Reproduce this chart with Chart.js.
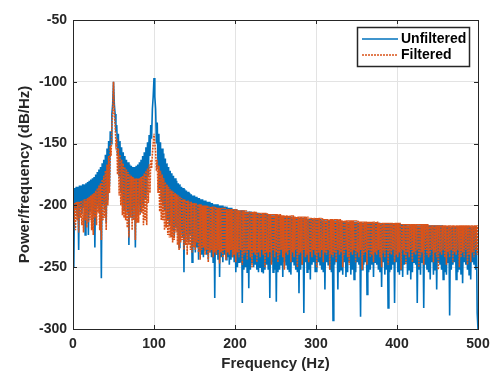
<!DOCTYPE html>
<html>
<head>
<meta charset="utf-8">
<script src="https://cdn.jsdelivr.net/npm/chart.js@4.4.1/dist/chart.umd.min.js"></script>
<style>
  html, body { margin: 0; padding: 0; background: #fff; }
</style>
</head>
<body>
<canvas id="psd" width="490" height="376"></canvas>
<script>
// spectrum, one value per Hz from 0 to 500 Hz
var freqStep = 1;

var unfiltered = [
  -186,-250,-186,-204,-185,-208,-185,-236,-184,-203,
  -184,-207,-183,-202,-183,-224,-182,-206,-181,-224,
  -180,-205,-179,-201,-178,-209,-177,-234,-175,-203,
  -173,-200,-171,-206,-169,-259,-166,-199,-163,-204,
  -159,-214,-154,-196,-148,-184,-140,-150,-126,-118,
  -100,-118,-126,-140,-135,-160,-142,-176,-148,-190,
  -153,-196,-157,-204,-160,-200,-163,-206,-165,-232,
  -167,-204,-168,-210,-169,-202,-169,-234,-168,-208,
  -167,-200,-165,-206,-163,-198,-160,-202,-157,-194,
  -153,-190,-149,-176,-143,-160,-135,-146,-122,-112,
  -97,-112,-122,-150,-133,-170,-142,-186,-149,-196,
  -154,-200,-158,-204,-162,-210,-166,-212,-169,-216,
  -172,-214,-174,-220,-176,-226,-178,-218,-180,-222,
  -182,-234,-183,-222,-185,-226,-186,-254,-187,-224,
  -188,-228,-189,-230,-190,-224,-191,-246,-192,-230,
  -192,-238,-193,-234,-194,-244,-194,-236,-195,-240,
  -195,-242,-196,-236,-196,-240,-197,-244,-197,-238,
  -198,-242,-198,-246,-199,-275,-199,-240,-199,-244,
  -200,-258,-200,-242,-200,-246,-201,-240,-201,-244,
  -201,-242,-202,-248,-202,-244,-202,-242,-203,-246,
  -203,-254,-203,-250,-204,-246,-204,-246,-204,-279,
  -204,-252,-205,-250,-205,-254,-205,-267,-205,-252,
  -205,-246,-206,-250,-206,-248,-206,-252,-206,-254,
  -206,-250,-207,-254,-207,-255,-207,-252,-207,-248,
  -207,-252,-207,-275,-208,-246,-208,-254,-208,-252,
  -208,-278,-208,-254,-208,-252,-208,-248,-209,-258,
  -209,-246,-209,-248,-209,-252,-209,-254,-209,-256,
  -209,-246,-210,-248,-210,-252,-210,-254,-210,-271,
  -210,-252,-210,-248,-210,-287,-210,-246,-210,-254,
  -211,-252,-211,-260,-211,-248,-211,-246,-211,-254,
  -211,-254,-211,-246,-211,-248,-211,-252,-212,-254,
  -212,-268,-212,-246,-212,-248,-212,-252,-212,-254,
  -212,-293,-212,-248,-212,-246,-212,-268,-213,-254,
  -213,-252,-213,-256,-213,-246,-213,-258,-213,-254,
  -213,-246,-213,-256,-213,-252,-213,-260,-213,-254,
  -213,-246,-214,-248,-214,-290,-214,-252,-214,-248,
  -214,-246,-214,-272,-214,-254,-214,-252,-214,-248,
  -214,-258,-214,-246,-214,-248,-214,-252,-214,-254,
  -215,-266,-215,-246,-215,-256,-215,-252,-215,-283,
  -215,-254,-215,-252,-215,-248,-215,-279,-215,-246,
  -215,-254,-215,-256,-215,-252,-215,-258,-215,-248,
  -215,-246,-216,-256,-216,-252,-216,-260,-216,-254,
  -216,-246,-216,-248,-216,-279,-216,-252,-216,-256,
  -216,-246,-216,-283,-216,-248,-216,-252,-216,-254,
  -216,-260,-216,-246,-216,-256,-216,-252,-216,-268,
  -216,-246,-216,-248,-216,-252,-216,-260,-217,-254,
  -217,-256,-217,-246,-217,-289,-217,-252,-217,-248,
  -217,-246,-217,-260,-217,-254,-217,-252,-217,-256,
  -217,-263,-217,-246,-217,-248,-217,-252,-217,-256,
  -217,-260,-217,-246,-217,-248,-217,-252,-217,-287,
  -300
];

var filtered = [
  -198,-214,-198,-220,-197,-212,-197,-222,-197,-210,
  -196,-216,-196,-222,-195,-212,-195,-218,-194,-214,
  -193,-212,-192,-220,-191,-224,-190,-210,-188,-216,
  -186,-206,-184,-220,-182,-228,-179,-212,-176,-210,
  -172,-220,-167,-200,-160,-190,-152,-160,-136,-125,
  -100,-125,-135,-150,-146,-175,-154,-192,-159,-200,
  -163,-208,-166,-210,-169,-212,-171,-218,-173,-226,
  -175,-210,-176,-220,-177,-212,-178,-228,-178,-214,
  -178,-214,-178,-208,-177,-206,-176,-216,-174,-212,
  -172,-216,-170,-198,-167,-190,-163,-170,-158,-150,
  -142,-150,-156,-172,-163,-190,-168,-205,-172,-212,
  -175,-212,-178,-220,-181,-218,-183,-224,-185,-226,
  -187,-226,-188,-230,-189,-228,-190,-222,-191,-232,
  -192,-236,-193,-230,-194,-228,-195,-236,-195,-232,
  -196,-240,-196,-232,-197,-236,-197,-238,-198,-234,
  -198,-236,-198,-230,-199,-238,-199,-244,-199,-236,
  -200,-234,-200,-240,-200,-236,-200,-246,-201,-238,
  -201,-236,-201,-242,-201,-238,-201,-240,-202,-236,
  -202,-247,-202,-238,-202,-242,-202,-236,-202,-244,
  -203,-238,-203,-240,-203,-236,-203,-242,-203,-240,
  -203,-246,-203,-238,-204,-242,-204,-236,-204,-248,
  -204,-240,-204,-238,-204,-244,-205,-236,-205,-242,
  -205,-250,-205,-238,-205,-240,-205,-246,-206,-238,
  -206,-242,-206,-236,-206,-240,-206,-250,-206,-238,
  -206,-242,-207,-238,-207,-248,-207,-236,-207,-242,
  -207,-238,-207,-246,-207,-240,-207,-236,-208,-242,
  -208,-252,-208,-238,-208,-240,-208,-236,-208,-246,
  -208,-238,-208,-242,-209,-236,-209,-250,-209,-240,
  -209,-238,-209,-248,-209,-236,-209,-242,-209,-240,
  -209,-246,-210,-238,-210,-242,-210,-236,-210,-240,
  -210,-250,-210,-238,-210,-242,-210,-236,-210,-246,
  -211,-238,-211,-240,-211,-236,-211,-252,-211,-240,
  -211,-242,-211,-238,-211,-246,-211,-236,-211,-240,
  -211,-238,-212,-250,-212,-240,-212,-236,-212,-242,
  -212,-248,-212,-238,-212,-240,-212,-236,-212,-246,
  -212,-238,-212,-242,-213,-236,-213,-252,-213,-240,
  -213,-238,-213,-248,-213,-236,-213,-242,-213,-240,
  -213,-246,-213,-238,-213,-240,-213,-236,-214,-242,
  -214,-250,-214,-238,-214,-242,-214,-236,-214,-248,
  -214,-238,-214,-240,-214,-236,-214,-246,-214,-240,
  -214,-242,-214,-238,-214,-252,-215,-236,-215,-240,
  -215,-248,-215,-238,-215,-242,-215,-236,-215,-246,
  -215,-238,-215,-240,-215,-236,-215,-250,-215,-242,
  -215,-238,-215,-248,-215,-236,-215,-240,-215,-242,
  -216,-240,-216,-236,-216,-246,-216,-238,-216,-242,
  -216,-252,-216,-238,-216,-240,-216,-236,-216,-242,
  -216,-248,-216,-238,-216,-242,-216,-236,-216,-246,
  -216,-238,-216,-240,-216,-236,-216,-250,-216,-242,
  -216,-238,-216,-242,-216,-236,-216,-248,-216,-240,
  -216,-246,-216,-238,-216,-242,-216,-236,-216,-240,
  -216
];

var xTicks = [0, 100, 200, 300, 400, 500];
var yTicks = [-300, -250, -200, -150, -100, -50];

var font = "'Liberation Sans', Arial, Helvetica, sans-serif";

function toPoints(vals) {
  return vals.map(function (v, i) { return { x: i * freqStep, y: v }; });
}

// MATLAB style box, inward ticks and boxed legend
var matlabBox = {
  id: 'matlabBox',
  afterDatasetsDraw: function (chart) {
    var a = chart.chartArea;
    var ctx = chart.ctx;
    var xs = chart.scales.x, ys = chart.scales.y;
    ctx.save();
    ctx.strokeStyle = '#262626';
    ctx.lineWidth = 1;
    ctx.strokeRect(Math.round(a.left) + 0.5, Math.round(a.top) + 0.5,
      Math.round(a.right - a.left), Math.round(a.bottom - a.top));

    ctx.beginPath();
    xTicks.forEach(function (t) {
      var px = Math.round(xs.getPixelForValue(t)) + 0.5;
      ctx.moveTo(px, a.bottom); ctx.lineTo(px, a.bottom - 4);
      ctx.moveTo(px, a.top); ctx.lineTo(px, a.top + 4);
    });
    yTicks.forEach(function (t) {
      var py = Math.round(ys.getPixelForValue(t)) + 0.5;
      ctx.moveTo(a.left, py); ctx.lineTo(a.left + 4, py);
      ctx.moveTo(a.right, py); ctx.lineTo(a.right - 4, py);
    });
    ctx.stroke();

    // legend
    var bx = 357, by = 27, bw = 112, bh = 39;
    ctx.fillStyle = '#fff';
    ctx.fillRect(bx, by, bw, bh);
    ctx.lineWidth = 1.5;
    ctx.strokeStyle = '#262626';
    ctx.strokeRect(bx + 0.5, by + 0.5, bw, bh);
    ctx.font = 'bold 14px ' + font;
    ctx.textBaseline = 'middle';
    ctx.textAlign = 'left';
    chart.data.datasets.forEach(function (ds, i) {
      var ly = by + 12 + i * 16;
      ctx.beginPath();
      ctx.strokeStyle = ds.borderColor;
      ctx.lineWidth = 1.5;
      ctx.setLineDash(ds.borderDash || []);
      ctx.moveTo(bx + 5, ly);
      ctx.lineTo(bx + 41, ly);
      ctx.stroke();
      ctx.setLineDash([]);
      ctx.fillStyle = '#000';
      ctx.fillText(ds.label, bx + 44, ly);
    });
    ctx.restore();
  }
};

new Chart(document.getElementById('psd'), {
  type: 'line',
  data: {
    datasets: [
      {
        label: 'Unfiltered',
        data: toPoints(unfiltered),
        borderColor: '#0072BD',
        borderWidth: 1.6,
        pointRadius: 0,
        order: 1
      },
      {
        label: 'Filtered',
        data: toPoints(filtered),
        borderColor: '#D95319',
        borderWidth: 1.6,
        borderDash: [2, 1],
        pointRadius: 0,
        order: 0
      }
    ]
  },
  options: {
    responsive: false,
    animation: false,
    devicePixelRatio: 1,
    layout: { padding: { top: 20, right: 12, left: 14, bottom: 0 } },
    plugins: {
      legend: { display: false },
      tooltip: { enabled: false }
    },
    scales: {
      x: {
        type: 'linear',
        min: 0,
        max: 500,
        afterBuildTicks: function (s) { s.ticks = xTicks.map(function (v) { return { value: v }; }); },
        afterFit: function (s) { s.height = 47; s.paddingLeft = 0; s.paddingRight = 0; },
        grid: { color: '#e3e3e3', drawTicks: false },
        border: { display: false },
        ticks: { padding: 7, color: '#262626', font: { family: font, size: 14, weight: 'bold' } },
        title: {
          display: true,
          text: 'Frequency (Hz)',
          color: '#262626',
          padding: { top: 0, bottom: 3 },
          font: { family: font, size: 15, weight: 'bold' }
        }
      },
      y: {
        min: -300,
        max: -50,
        afterBuildTicks: function (s) { s.ticks = yTicks.map(function (v) { return { value: v }; }); },
        afterFit: function (s) { s.width = 59; s.paddingTop = 0; s.paddingBottom = 0; },
        grid: { color: '#e3e3e3', drawTicks: false },
        border: { display: false },
        ticks: { padding: 6, color: '#262626', font: { family: font, size: 14, weight: 'bold' } },
        title: {
          display: true,
          text: 'Power/frequency (dB/Hz)',
          color: '#262626',
          padding: { top: 2, bottom: 0 },
          font: { family: font, size: 15, weight: 'bold' }
        }
      }
    }
  },
  plugins: [matlabBox]
});
</script>
</body>
</html>
